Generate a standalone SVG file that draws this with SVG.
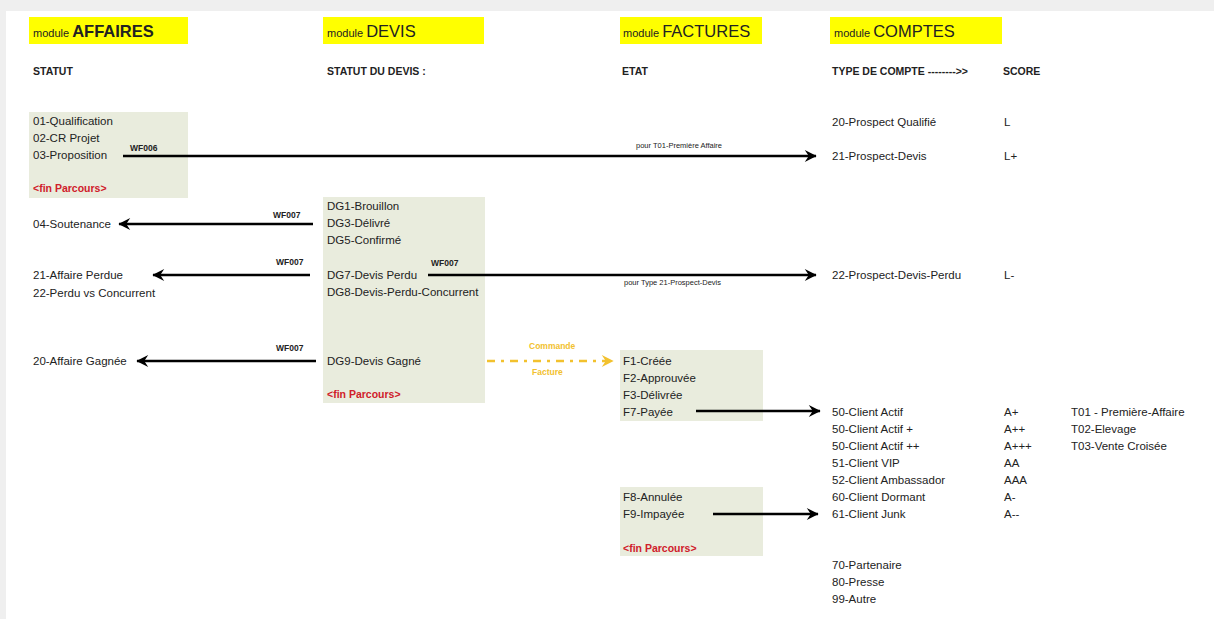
<svg xmlns="http://www.w3.org/2000/svg" width="1214" height="619" viewBox="0 0 1214 619">
<defs>
<marker id="ah" viewBox="0 0 10 10" refX="9" refY="5" markerWidth="5.5" markerHeight="5.5" orient="auto" markerUnits="strokeWidth">
<path d="M0.5,0.5 L9.5,5 L0.5,9.5 L3.5,5 Z" fill="#000"/>
</marker>
<marker id="ahy" viewBox="0 0 10 10" refX="9" refY="5" markerWidth="5.5" markerHeight="5.5" orient="auto" markerUnits="strokeWidth">
<path d="M0.5,0.5 L9.5,5 L0.5,9.5 L3.5,5 Z" fill="#f2c12e"/>
</marker>
<style>
text{font-family:"Liberation Sans",Arial,sans-serif;font-size:11.5px;fill:#222}
.mod{font-size:11px}
.big{font-size:16.5px}
.hd{font-size:10.5px;font-weight:bold}
.wf{font-size:8.5px;font-weight:bold}
.sm{font-size:7.5px}
.red{fill:#d0202a;font-weight:bold;font-size:10.5px}
.yl{fill:#f2c12e;font-size:8.5px;font-weight:bold}
.ybox{fill:#ffff00}
.gbox{fill:#e9ecdd}
.arr{stroke:#000;stroke-width:2.4;fill:none;marker-end:url(#ah)}
.arry{stroke:#f2c12e;stroke-width:2.4;fill:none;stroke-dasharray:8 6 3 6;marker-end:url(#ahy)}
</style>
</defs>
<rect width="1214" height="619" fill="#fff"/>
<rect width="1214" height="11" fill="#efefef"/>
<rect width="6" height="619" fill="#efefef"/>

<g id="module-affaires">
<rect class="ybox" x="29" y="17" width="159" height="27"/>
<text x="33" y="37"><tspan class="mod">module </tspan><tspan class="big" style="font-weight:bold">AFFAIRES</tspan></text>
<text class="hd" x="33" y="75">STATUT</text>
</g>
<g id="affaires-statuts">
<rect class="gbox" x="29" y="112" width="159" height="86"/>
<text x="33" y="125">01-Qualification</text>
<text x="33" y="142">02-CR Projet</text>
<text x="33" y="159">03-Proposition</text>
<text class="red" x="33" y="192">&lt;fin Parcours&gt;</text>
</g>
<g id="affaires-soutenance"><text x="33" y="228">04-Soutenance</text></g>
<g id="affaires-perdue">
<text x="33" y="279">21-Affaire Perdue</text>
<text x="33" y="297">22-Perdu vs Concurrent</text>
</g>
<g id="affaires-gagnee"><text x="33" y="365">20-Affaire Gagnée</text></g>

<g id="module-devis">
<rect class="ybox" x="323" y="17" width="161" height="27"/>
<text x="327" y="37"><tspan class="mod">module </tspan><tspan class="big">DEVIS</tspan></text>
<text class="hd" x="327" y="75">STATUT DU DEVIS :</text>
</g>
<g id="devis-statuts">
<rect class="gbox" x="323" y="197" width="162" height="206"/>
<text x="327" y="210">DG1-Brouillon</text>
<text x="327" y="227">DG3-Délivré</text>
<text x="327" y="244">DG5-Confirmé</text>
<text x="327" y="279">DG7-Devis Perdu</text>
<text x="327" y="296">DG8-Devis-Perdu-Concurrent</text>
<text x="327" y="365">DG9-Devis Gagné</text>
<text class="red" x="327" y="398">&lt;fin Parcours&gt;</text>
</g>

<g id="module-factures">
<rect class="ybox" x="620" y="17" width="142" height="27"/>
<text x="623" y="37"><tspan class="mod">module </tspan><tspan class="big">FACTURES</tspan></text>
<text class="hd" x="622" y="75">ETAT</text>
</g>
<g id="factures-etats-1">
<rect class="gbox" x="620" y="350" width="143" height="71"/>
<text x="623" y="365">F1-Créée</text>
<text x="623" y="382">F2-Approuvée</text>
<text x="623" y="399">F3-Délivrée</text>
<text x="623" y="416">F7-Payée</text>
</g>
<g id="factures-etats-2">
<rect class="gbox" x="620" y="487" width="143" height="69"/>
<text x="623" y="501">F8-Annulée</text>
<text x="623" y="518">F9-Impayée</text>
<text class="red" x="623" y="552">&lt;fin Parcours&gt;</text>
</g>

<g id="module-comptes">
<rect class="ybox" x="830" y="17" width="172" height="27"/>
<text x="834" y="37"><tspan class="mod">module </tspan><tspan class="big">COMPTES</tspan></text>
<text class="hd" x="832" y="75">TYPE DE COMPTE  --------&gt;&gt;</text>
<text class="hd" x="1003" y="75">SCORE</text>
</g>
<g id="comptes-prospects">
<text x="832" y="126">20-Prospect Qualifié</text><text x="1004" y="126">L</text>
<text x="832" y="160">21-Prospect-Devis</text><text x="1004" y="160">L+</text>
<text x="832" y="279">22-Prospect-Devis-Perdu</text><text x="1004" y="279">L-</text>
</g>
<g id="comptes-clients">
<text x="832" y="416">50-Client Actif</text><text x="1004" y="416">A+</text>
<text x="832" y="433">50-Client Actif +</text><text x="1004" y="433">A++</text>
<text x="832" y="450">50-Client Actif ++</text><text x="1004" y="450">A+++</text>
<text x="832" y="467">51-Client VIP</text><text x="1004" y="467">AA</text>
<text x="832" y="484">52-Client Ambassador</text><text x="1004" y="484">AAA</text>
<text x="832" y="501">60-Client Dormant</text><text x="1004" y="501">A-</text>
<text x="832" y="518">61-Client Junk</text><text x="1004" y="518">A--</text>
</g>
<g id="comptes-types">
<text x="1071" y="416">T01 - Première-Affaire</text>
<text x="1071" y="433">T02-Elevage</text>
<text x="1071" y="450">T03-Vente Croisée</text>
</g>
<g id="comptes-autres">
<text x="832" y="569">70-Partenaire</text>
<text x="832" y="586">80-Presse</text>
<text x="832" y="603">99-Autre</text>
</g>

<g id="connectors">
<line class="arr" x1="123" y1="156" x2="816" y2="156"/>
<text class="wf" x="130" y="151">WF006</text>
<text class="sm" x="636" y="148">pour T01-Première Affaire</text>

<line class="arr" x1="313" y1="224" x2="119" y2="224"/>
<text class="wf" x="273" y="218">WF007</text>

<line class="arr" x1="310" y1="275" x2="153" y2="275"/>
<text class="wf" x="276" y="265">WF007</text>

<line class="arr" x1="428" y1="275" x2="816" y2="275"/>
<text class="wf" x="431" y="266">WF007</text>
<text class="sm" x="624" y="285">pour Type 21-Prospect-Devis</text>

<line class="arr" x1="316" y1="361" x2="137" y2="361"/>
<text class="wf" x="276" y="351">WF007</text>

<line class="arry" x1="487" y1="361" x2="613" y2="361"/>
<text class="yl" x="529" y="349">Commande</text>
<text class="yl" x="532" y="375">Facture</text>

<line class="arr" x1="696" y1="411" x2="820" y2="411"/>
<line class="arr" x1="713" y1="514" x2="818" y2="514"/>
</g>
</svg>
